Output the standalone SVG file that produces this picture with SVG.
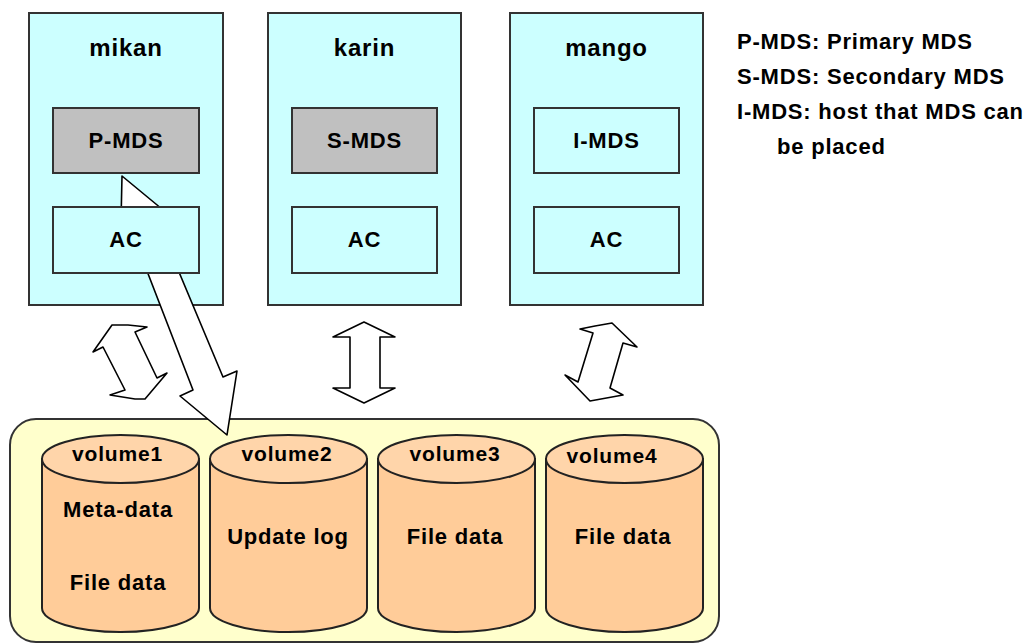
<svg xmlns="http://www.w3.org/2000/svg" width="1035" height="644" viewBox="0 0 1035 644">
<style>
text{font-family:"Liberation Sans",Arial,sans-serif;font-weight:bold;fill:#000;letter-spacing:0.8px}
.host{fill:#CCFFFF;stroke:#333;stroke-width:2}
.mds{fill:#C0C0C0;stroke:#333;stroke-width:2}
.sub{fill:#CCFFFF;stroke:#333;stroke-width:2}
.store{fill:#FFFFCC;stroke:#333;stroke-width:2}
.cylb{fill:#FFCC99;stroke:#222;stroke-width:2}
.cylt{fill:#FFD5AA;stroke:#222;stroke-width:2}
.arr{fill:#fff;stroke:#000;stroke-width:1.6;stroke-linejoin:round}
.hn{font-size:24px;text-anchor:middle}
.bx{font-size:22px;text-anchor:middle}
.vl{font-size:21px;text-anchor:middle}
.cl{font-size:22px;text-anchor:middle}
.lg{font-size:22px}
</style>
<defs>
<g id="cyl">
<path class="cylb" d="M0,0 L0,149 A78.5,24 0 0 0 157,149 L157,0 Z"/>
<ellipse class="cylt" cx="78.5" cy="0" rx="78.5" ry="24"/>
</g>
</defs>

<g id="mikan">
<rect class="host" x="29" y="13" width="194" height="292"/>
<text class="hn" x="126" y="56">mikan</text>
<rect class="mds" x="53" y="108" width="146" height="65"/>
<text class="bx" x="126" y="148">P-MDS</text>
</g>

<g id="karin">
<rect class="host" x="268" y="13" width="193" height="292"/>
<text class="hn" x="364.5" y="56">karin</text>
<rect class="mds" x="292" y="108" width="145" height="65"/>
<text class="bx" x="364.5" y="148">S-MDS</text>
<rect class="sub" x="292" y="207" width="145" height="66"/>
<text class="bx" x="364.5" y="247">AC</text>
</g>

<g id="mango">
<rect class="host" x="510" y="13" width="193" height="292"/>
<text class="hn" x="606.5" y="56">mango</text>
<rect class="sub" x="534" y="108" width="145" height="65"/>
<text class="bx" x="606.5" y="148">I-MDS</text>
<rect class="sub" x="534" y="207" width="145" height="66"/>
<text class="bx" x="606.5" y="247">AC</text>
</g>

<g id="storage">
<rect class="store" x="10" y="419" width="709" height="223" rx="26" ry="26"/>
</g>

<g id="volume1">
<use href="#cyl" x="42" y="459"/>
<text class="vl" x="117.5" y="461">volume1</text>
<text class="cl" x="118" y="517">Meta-data</text>
<text class="cl" x="118" y="590">File data</text>
</g>
<g id="volume2">
<use href="#cyl" x="210" y="459"/>
<text class="vl" x="287" y="461">volume2</text>
<text class="cl" x="288" y="544">Update log</text>
</g>
<g id="volume3">
<use href="#cyl" x="378" y="459"/>
<text class="vl" x="455" y="461">volume3</text>
<text class="cl" x="455" y="544">File data</text>
</g>
<g id="volume4">
<use href="#cyl" x="546" y="459"/>
<text class="vl" x="612" y="463">volume4</text>
<text class="cl" x="623" y="544">File data</text>
</g>

<g id="connectors">
<polygon class="arr" points="122,176 168,214 158,222 223,377 237,371 227,435 180,396 193,390 135,240 121,222"/>
<polygon class="arr" points="93,352 112,325 128,325 147,327 135,332 157,378 167,373 145,399 135,399 110,395 125,390 103,347"/>
<polygon class="arr" points="364,322 395,337 380,337 380,388 395,388 364,403 333,388 350,388 350,337 333,337"/>
<polygon class="arr" points="580,329 595,326 612,323 637,347 623,343 610,388 623,395 590,401 565,375 578,382 593,333"/>
</g>

<g id="mikan-ac">
<rect class="sub" x="53" y="207" width="146" height="66"/>
<text class="bx" x="126" y="247">AC</text>
</g>

<g id="legend">
<text class="lg" x="737" y="49">P-MDS: Primary MDS</text>
<text class="lg" x="737" y="84">S-MDS: Secondary MDS</text>
<text class="lg" x="737" y="119">I-MDS: host that MDS can</text>
<text class="lg" x="777" y="154">be placed</text>
</g>
</svg>
